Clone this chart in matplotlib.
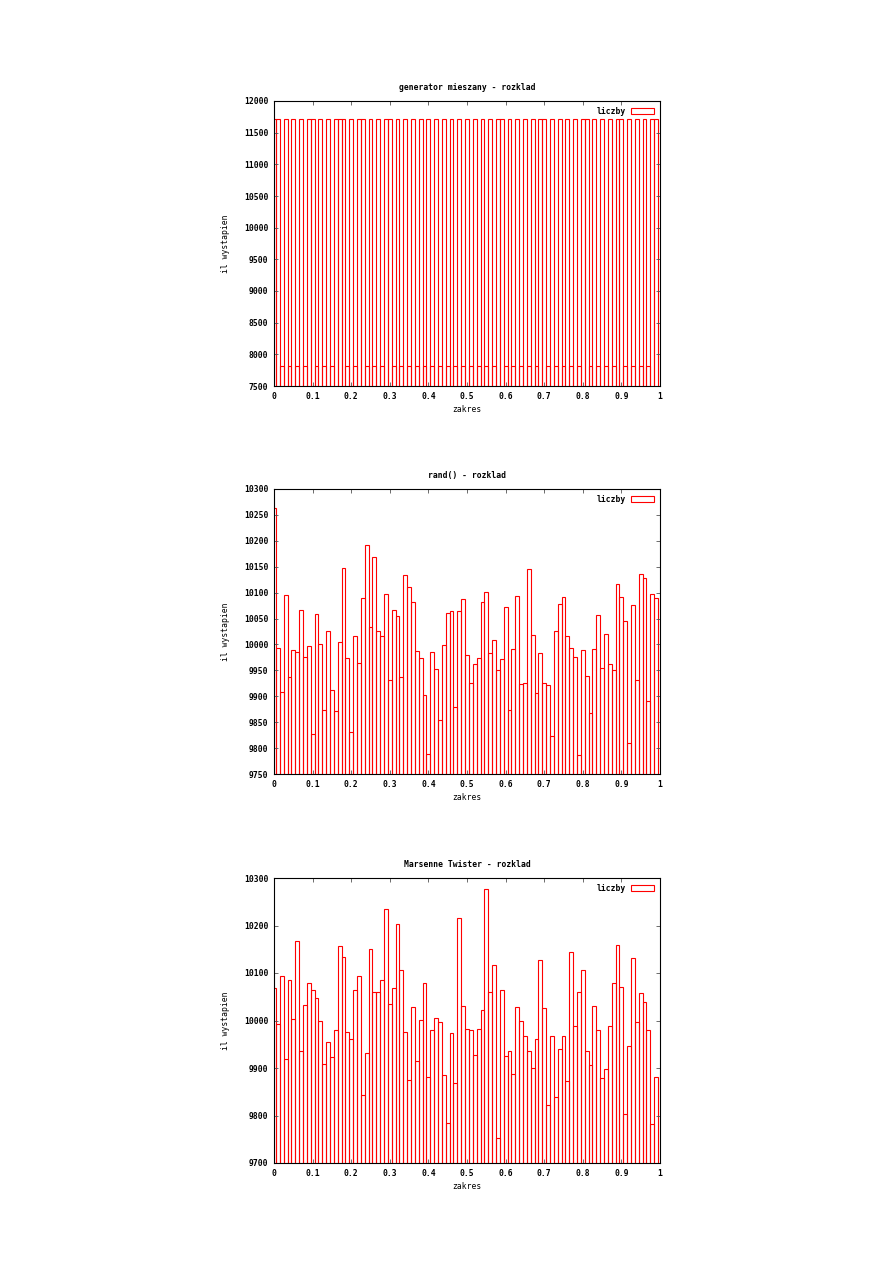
import matplotlib
matplotlib.use('Agg')
import matplotlib.pyplot as plt
from matplotlib.patches import Patch
import numpy as np

# bin centres: 0, 0.01, ..., 0.99
bins = [round(i * 0.01, 2) for i in range(100)]

titles = ['generator mieszany - rozklad', 'rand() - rozklad', 'Marsenne Twister - rozklad']

mixed = [11720, 11720, 7815, 11720, 7815, 11720, 7815, 11720, 7815, 11720,
         11720, 7815, 11720, 7815, 11720, 7815, 11720, 11720, 11720, 7815,
         11720, 7815, 11720, 11720, 7815, 11720, 7815, 11720, 7815, 11720,
         11720, 7815, 11720, 7815, 11720, 7815, 11720, 7815, 11720, 7815,
         11720, 7815, 11720, 7815, 11720, 7815, 11720, 7815, 11720, 7815,
         11720, 7815, 11720, 7815, 11720, 7815, 11720, 7815, 11720, 11720,
         7815, 11720, 7815, 11720, 7815, 11720, 7815, 11720, 7815, 11720,
         11720, 7815, 11720, 7815, 11720, 7815, 11720, 7815, 11720, 7815,
         11720, 11720, 7815, 11720, 7815, 11720, 7815, 11720, 7815, 11720,
         11720, 7815, 11720, 7815, 11720, 7815, 11720, 7815, 11720, 11720]

rand_c = [10263, 9994, 9908, 10096, 9938, 9990, 9985, 10067, 9976, 9997,
          9828, 10059, 10001, 9874, 10026, 9913, 9871, 10005, 10147, 9974,
          9832, 10017, 9965, 10090, 10192, 10033, 10169, 10026, 10017, 10097,
          9932, 10067, 10055, 9938, 10135, 10110, 10082, 9988, 9974, 9903,
          9788, 9986, 9953, 9855, 9999, 10060, 10065, 9880, 10065, 10088,
          9979, 9926, 9963, 9974, 10082, 10101, 9984, 10008, 9951, 9971,
          10072, 9874, 9992, 10094, 9924, 9926, 10146, 10019, 9907, 9984,
          9926, 9922, 9824, 10026, 10078, 10092, 10017, 9994, 9976, 9786,
          9990, 9940, 9867, 9992, 10057, 9955, 10021, 9962, 9951, 10116,
          10092, 10046, 9809, 10076, 9932, 10136, 10128, 9890, 10097, 10089]

mt = [10069, 9992, 10094, 9920, 10085, 10004, 10168, 9936, 10032, 10078,
      10064, 10047, 9999, 9908, 9954, 9924, 9981, 10157, 10134, 9975,
      9962, 10064, 10094, 9843, 9931, 10151, 10059, 10059, 10085, 10235,
      10034, 10069, 10203, 10107, 9976, 9874, 10028, 9914, 10002, 10080,
      9882, 9979, 10005, 9996, 9885, 9784, 9973, 9868, 10216, 10031,
      9983, 9981, 9927, 9983, 10023, 10277, 10059, 10117, 9753, 10065,
      9925, 9935, 9887, 10028, 9998, 9967, 9935, 9901, 9962, 10127,
      10026, 9822, 9967, 9838, 9939, 9967, 9873, 10145, 9988, 10059,
      10106, 9935, 9906, 10031, 9981, 9880, 9897, 9988, 10078, 10159,
      10071, 9803, 9946, 10132, 9996, 10057, 10038, 9980, 9783, 9882]

series = [mixed, rand_c, mt]
ylims = [(7500, 12000), (9750, 10300), (9700, 10300)]
ysteps = [500, 50, 100]
xticks = [0, 0.1, 0.2, 0.3, 0.4, 0.5, 0.6, 0.7, 0.8, 0.9, 1]
xticklabels = ['0', '0.1', '0.2', '0.3', '0.4', '0.5', '0.6', '0.7', '0.8', '0.9', '1']

plt.rcParams['font.family'] = 'DejaVu Sans Mono'
plt.rcParams['font.weight'] = 'bold'
plt.rcParams['font.size'] = 5.8

fig = plt.figure(figsize=(8.93, 12.63), dpi=100)
bottoms = [1 - 386 / 1263, 1 - 774 / 1263, 1 - 1163 / 1263]

for k in range(3):
    ax = fig.add_axes([274 / 893, bottoms[k], 386 / 893, 285 / 1263])
    ax.bar(bins, series[k], width=0.01, fill=False, edgecolor='red', linewidth=0.8)
    lo, hi = ylims[k]
    ax.set_xlim(0, 1)
    ax.set_ylim(lo, hi)
    ax.set_yticks(np.arange(lo, hi + 1, ysteps[k]))
    ax.set_xticks(xticks)
    ax.set_xticklabels(xticklabels)
    ax.tick_params(direction='in', top=True, right=True, length=3, width=0.6,
                   color='#555555', pad=4)
    for s in ax.spines.values():
        s.set_linewidth(0.8)
    ax.set_title(titles[k], pad=8, fontsize=5.8, fontweight='bold')
    ax.set_xlabel('zakres', labelpad=3)
    ax.set_ylabel('il wystapien', labelpad=10)
    ax.legend(handles=[Patch(facecolor='none', edgecolor='red', linewidth=0.8)],
              labels=['liczby'], loc='upper right', frameon=False, markerfirst=False,
              handlelength=2.9, handleheight=0.7, handletextpad=0.6,
              borderaxespad=0.3)

fig.savefig('out.png', dpi=100)
